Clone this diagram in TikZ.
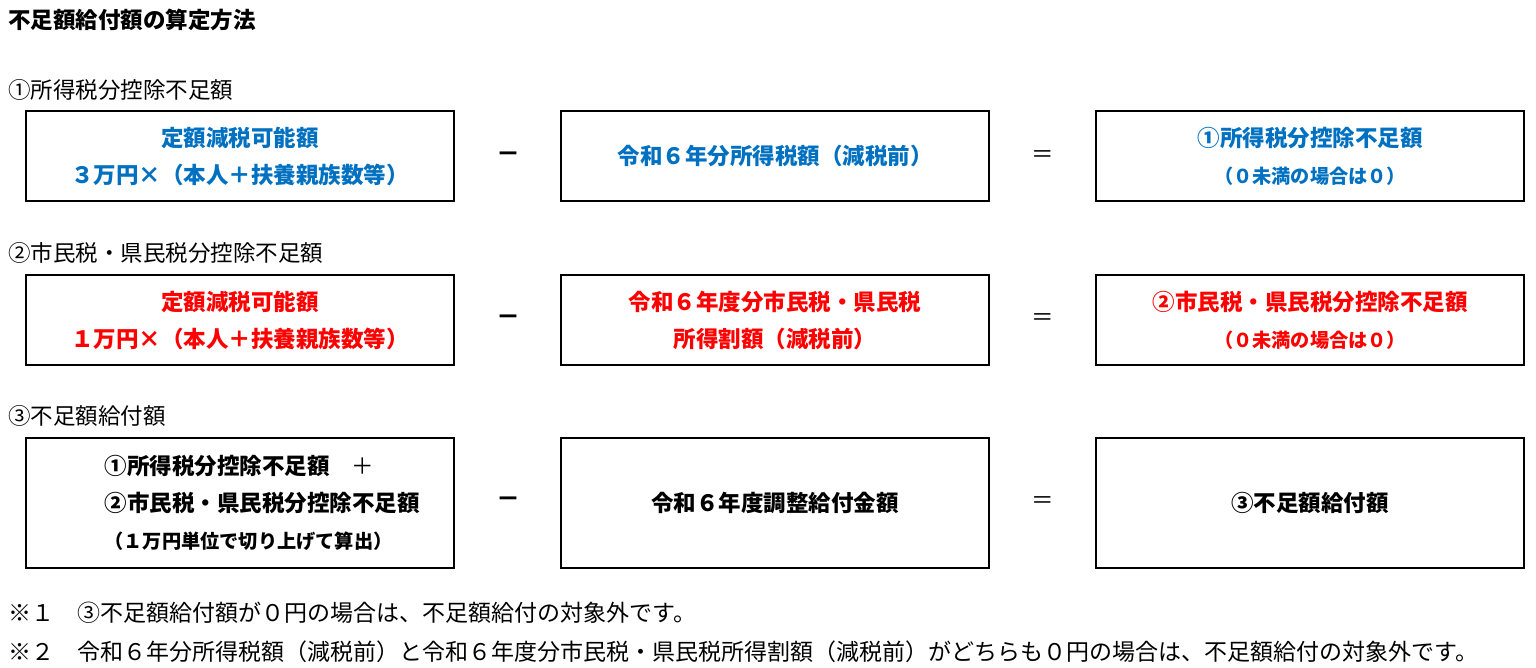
\documentclass[tikz,border=0pt]{standalone}
\usepackage{fontspec}
\setmainfont{Noto Sans CJK JP}
\definecolor{calcblue}{HTML}{0070C0}
\definecolor{calcred}{HTML}{FF0000}
\newcommand\smalltxt{\fontsize{9.6}{12}\selectfont}
\begin{document}
\begin{tikzpicture}[x=0.5pt,y=-0.5pt,
    frame/.style={draw,line width=1pt,minimum width=214pt,minimum height=45pt,inner sep=0pt,align=center,font=\bfseries\fontsize{11.25}{18.5}\selectfont},
    tall/.style={frame,minimum height=65pt},
    head/.style={anchor=west,inner sep=0pt,font=\fontsize{11.25}{14}\selectfont},
    note/.style={head,font=\fontsize{11.5}{14}\selectfont},
    sign/.style={inner sep=0pt,font=\fontsize{11.25}{14}\selectfont}]
\useasboundingbox (0,0) rectangle (1536,668);

\node (title) at (8,20)[head,font=\bfseries\fontsize{11.25}{14}\selectfont]{不足額給付額の算定方法};

% row 1
\node (head1) at (8,90)[head]{①所得税分控除不足額};
\node (quota1) at (240,156)[frame,text=calcblue]{定額減税可能額\\３万円×（本人＋扶養親族数等）};
\node (tax1) at (775,156)[frame,text=calcblue]{令和６年分所得税額（減税前）};
\node (short1) at (1310,156)[frame,text=calcblue]{①所得税分控除不足額\\[0pt]{\smalltxt（０未満の場合は０）}};
\node (minus1) at (508,157)[sign,font=\bfseries\fontsize{12}{14}\selectfont]{－};
\node (equal1) at (1043,157)[sign]{＝};

% row 2
\node (head2) at (8,253)[head]{②市民税・県民税分控除不足額};
\node (quota2) at (240,320)[frame,text=calcred]{定額減税可能額\\１万円×（本人＋扶養親族数等）};
\node (tax2) at (775,320)[frame,text=calcred]{令和６年度分市民税・県民税\\所得割額（減税前）};
\node (short2) at (1310,320)[frame,text=calcred]{②市民税・県民税分控除不足額\\[0pt]{\smalltxt（０未満の場合は０）}};
\node (minus2) at (508,320)[sign,font=\bfseries\fontsize{12}{14}\selectfont]{－};
\node (equal2) at (1043,320)[sign]{＝};

% row 3
\node (head3) at (8,416)[head]{③不足額給付額};
\node (sum3) at (240,503)[tall,align=left]{\hspace*{22pt}①所得税分控除不足額　{\mdseries ＋}\\
  \hspace*{22pt}②市民税・県民税分控除不足額\\[0pt]
  \hspace*{22pt}{\smalltxt（１万円単位で切り上げて算出）}};
\node (adj3) at (775,503)[tall]{令和６年度調整給付金額};
\node (pay3) at (1310,503)[tall]{③不足額給付額};
\node (minus3) at (508,502)[sign,font=\bfseries\fontsize{12}{14}\selectfont]{－};
\node (equal3) at (1043,503)[sign]{＝};

% notes
\node (note1) at (8,613)[note]{※１　③不足額給付額が０円の場合は、不足額給付の対象外です。};
\node (note2) at (8,652)[note]{※２　令和６年分所得税額（減税前）と令和６年度分市民税・県民税所得割額（減税前）がどちらも０円の場合は、不足額給付の対象外です。};

\end{tikzpicture}
\end{document}
